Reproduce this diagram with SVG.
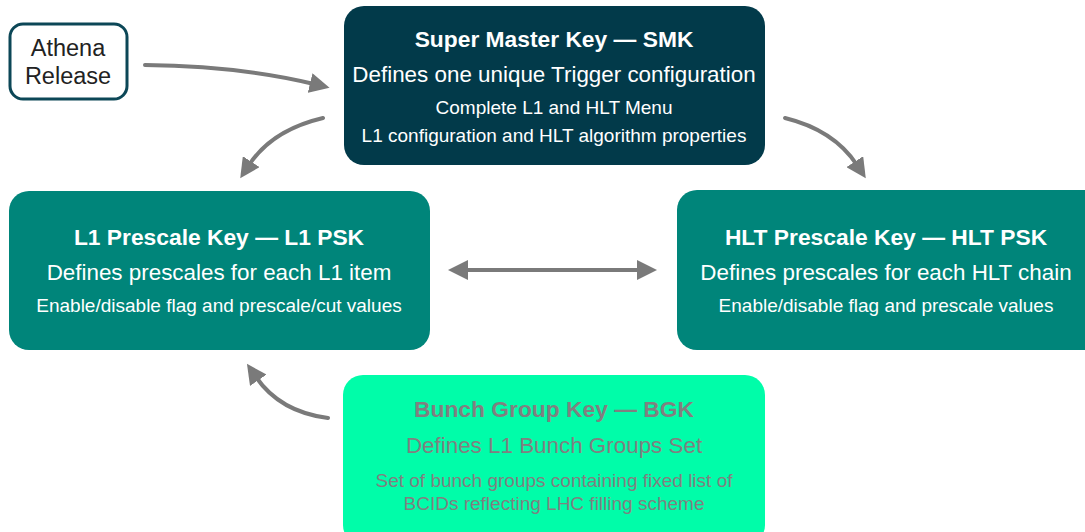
<svg xmlns="http://www.w3.org/2000/svg" width="1085" height="532" viewBox="0 0 1085 532">
  <style>
    text { font-family: "Liberation Sans", Arial, sans-serif; text-anchor: middle; }
    .t { font-size: 22.8px; font-weight: bold; }
    .m { font-size: 22.4px; }
    .s { font-size: 19px; }
    .lt { fill: #ffffff; }
    .gr { fill: #808080; }
    .con { fill: none; stroke: #7a7a7a; stroke-width: 4; stroke-linecap: round; }
  </style>
  <defs>
    <marker id="ah" viewBox="0 0 10 10" refX="2" refY="5" markerWidth="5" markerHeight="5" orient="auto-start-reverse" markerUnits="strokeWidth">
      <path d="M0,0 L10,5 L0,10 Z" fill="#7a7a7a"/>
    </marker>
  </defs>
  <rect width="1085" height="532" fill="#ffffff"/>

  <g id="athena">
    <rect x="10" y="24" width="117" height="75" rx="13" fill="#ffffff" stroke="#0c4757" stroke-width="3"/>
    <text x="68" y="56" style="font-size:23.5px" fill="#222">Athena</text>
    <text x="68" y="84" style="font-size:23.5px" fill="#222">Release</text>
  </g>

  <g id="smk">
    <rect x="344" y="6" width="421" height="159" rx="20" fill="#023a4a"/>
    <text class="t lt" x="554" y="47">Super Master Key — SMK</text>
    <text class="m lt" x="554" y="82">Defines one unique Trigger configuration</text>
    <text class="s lt" x="554" y="114">Complete L1 and HLT Menu</text>
    <text class="s lt" x="554" y="142">L1 configuration and HLT algorithm properties</text>
  </g>

  <g id="l1psk">
    <rect x="9" y="191" width="421" height="159" rx="20" fill="#00857a"/>
    <text class="t lt" x="219" y="245">L1 Prescale Key — L1 PSK</text>
    <text class="m lt" x="219" y="280">Defines prescales for each L1 item</text>
    <text class="s lt" x="219" y="312">Enable/disable flag and prescale/cut values</text>
  </g>

  <g id="hltpsk">
    <rect x="677" y="190" width="430" height="160" rx="20" fill="#00857a"/>
    <text class="t lt" x="886" y="245">HLT Prescale Key — HLT PSK</text>
    <text class="m lt" x="886" y="280">Defines prescales for each HLT chain</text>
    <text class="s lt" x="886" y="312">Enable/disable flag and prescale values</text>
  </g>

  <g id="bgk">
    <rect x="343" y="375" width="422" height="170" rx="20" fill="#00fda9"/>
    <text class="t gr" x="554" y="417">Bunch Group Key — BGK</text>
    <text class="m gr" x="554" y="453">Defines L1 Bunch Groups Set</text>
    <text class="s gr" x="554" y="487">Set of bunch groups containing fixed list of</text>
    <text class="s gr" x="554" y="510">BCIDs reflecting LHC filling scheme</text>
  </g>

  <g id="connectors">
    <path class="con" d="M145,65 Q240,66 314,84" marker-end="url(#ah)"/>
    <path class="con" d="M323,118 Q272,130 249,165" marker-end="url(#ah)"/>
    <path class="con" d="M785,118 Q834,130 857,165" marker-end="url(#ah)"/>
    <path class="con" d="M464,270 L641,270" marker-start="url(#ah)" marker-end="url(#ah)"/>
    <path class="con" d="M328,418 Q280,412 256,377" marker-end="url(#ah)"/>
  </g>
</svg>
